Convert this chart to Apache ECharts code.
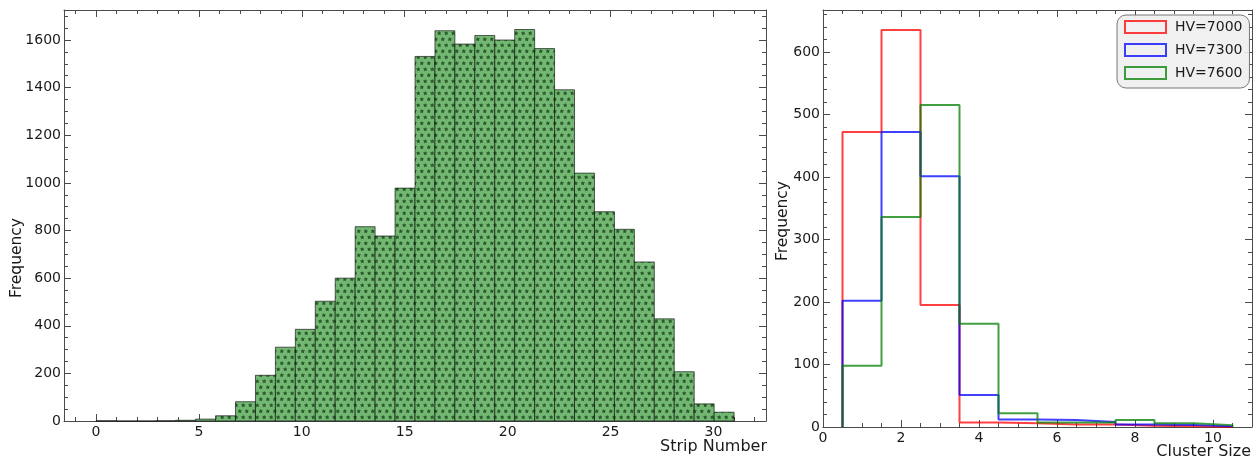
<!DOCTYPE html>
<html>
<head>
<meta charset="utf-8">
<script src="https://cdn.jsdelivr.net/npm/echarts@6/dist/echarts.min.js"></script>
<style>
  html, body { margin: 0; padding: 0; background: #fff; }
  #chart { width: 1259px; height: 459px; }
</style>
</head>
<body>
<div id="chart"></div>
<script>
// left: strip number histogram, 32 bins spanning strips 0..31
const stripRange = [0, 31];
const stripBinCount = 32;
const stripCounts = [1, 0, 0, 1, 3, 8, 22, 81, 192, 310, 385, 503, 600, 816, 777, 978,
  1531, 1639, 1583, 1619, 1600, 1644, 1564, 1391, 1041, 879, 805, 668, 429, 207, 72, 37];

// right: cluster size histograms (step outlines)
const clusterSizes = [1, 2, 3, 4, 5, 6, 7, 8, 9, 10];
const hvLabels = ['HV=7000', 'HV=7300', 'HV=7600'];
const hv7000 = [472, 635, 195, 7, 6, 4, 4, 2, 1, 0];
const hv7300 = [202, 472, 401, 51, 12, 11, 8, 4, 3, 1];
const hv7600 = [98, 336, 515, 165, 22, 7, 7, 11, 6, 3];

// tick labels
const stripTicks = [0, 5, 10, 15, 20, 25, 30];
const stripFreqTicks = [0, 200, 400, 600, 800, 1000, 1200, 1400, 1600];
const clusterTicks = [0, 2, 4, 6, 8, 10];
const clusterFreqTicks = [0, 100, 200, 300, 400, 500, 600];

const hvColors = ['rgba(255,0,0,0.75)', 'rgba(0,0,255,0.75)', 'rgba(0,128,0,0.75)'];
const axisColor = '#4a4a4a';
const font = 'DejaVu Sans';

// minor ticks between majors
const minorsOf = (from, to, step, majors) => {
  const out = [];
  for (let v = from; v <= to + 1e-9; v += step) {
    const r = Math.round(v * 100) / 100;
    if (!majors.includes(r)) out.push(r);
  }
  return out;
};

// star hatch tile
const starTile = () => {
  const c = document.createElement('canvas');
  c.width = 7; c.height = 12;
  const g = c.getContext('2d');
  g.fillStyle = '#72b872';
  g.fillRect(0, 0, 7, 12);
  g.fillStyle = '#2c582c';
  [[1.75, 3], [5.25, 9]].forEach(([cx, cy]) => {
    g.beginPath();
    for (let i = 0; i < 10; i++) {
      const r = i % 2 ? 1.2 : 2.4;
      const a = -Math.PI / 2 + i * Math.PI / 5;
      g.lineTo(cx + r * Math.cos(a), cy + 0.3 + r * Math.sin(a));
    }
    g.closePath();
    g.fill();
  });
  return c;
};
const starFill = { image: starTile(), repeat: 'repeat' };

const xAxes = [];
const yAxes = [];

// each side: one axis with majors (+labels), one with minor ticks only
const addAxes = (list, grid, dim, min, max, majors, minors) => {
  const sides = dim === 'x' ? ['bottom', 'top'] : ['left', 'right'];
  const first = list.length;
  sides.forEach((side, k) => {
    list.push({
      type: 'value', gridIndex: grid, position: side, min, max,
      axisLine: { show: true, onZero: false, lineStyle: { color: axisColor, width: 1 } },
      axisTick: { show: true, inside: true, length: 7, customValues: majors, lineStyle: { color: axisColor } },
      axisLabel: {
        show: k === 0, customValues: majors, margin: dim === 'x' ? 4 : 3,
        formatter: (v) => String(v),
        color: '#1a1a1a', fontFamily: font, fontSize: 14
      },
      splitLine: { show: false }
    });
    list.push({
      type: 'value', gridIndex: grid, position: side, min, max,
      axisLine: { show: false, onZero: false },
      axisTick: { show: true, inside: true, length: 4, customValues: minors, lineStyle: { color: axisColor } },
      axisLabel: { show: false },
      splitLine: { show: false }
    });
  });
  return first;
};

const stripX = addAxes(xAxes, 0, 'x', -1.55, 32.55, stripTicks, minorsOf(-1, 32, 1, stripTicks));
const stripY = addAxes(yAxes, 0, 'y', 0, 1726, stripFreqTicks, minorsOf(50, 1700, 50, stripFreqTicks));
const clusterX = addAxes(xAxes, 1, 'x', 0, 11, clusterTicks, minorsOf(0.5, 10.5, 0.5, clusterTicks));
const clusterY = addAxes(yAxes, 1, 'y', 0, 667, clusterFreqTicks, minorsOf(20, 660, 20, clusterFreqTicks));

const binWidth = (stripRange[1] - stripRange[0]) / stripBinCount;
const stripBins = stripCounts.map((c, i) => [stripRange[0] + i * binWidth, stripRange[0] + (i + 1) * binWidth, c]);

const stepPoints = (values) => {
  const pts = [[clusterSizes[0] - 0.5, 0]];
  values.forEach((v, i) => pts.push([clusterSizes[i] + 0.5, v]));
  pts.push([clusterSizes[clusterSizes.length - 1] + 0.5, 0]);
  return pts;
};

const chart = echarts.init(document.getElementById('chart'));

const option = {
  animation: false,
  backgroundColor: '#fff',
  grid: [
    { left: 64, top: 10, width: 702, height: 411 },
    { left: 823, top: 10, width: 429, height: 417 }
  ],
  xAxis: xAxes,
  yAxis: yAxes,
  legend: {
    orient: 'vertical',
    left: 1117, top: 15,
    padding: [4, 7, 7, 7],
    itemWidth: 41, itemHeight: 12, itemGap: 7,
    backgroundColor: 'rgba(238,238,238,0.9)',
    borderColor: '#777', borderWidth: 1, borderRadius: 9,
    textStyle: { fontFamily: font, fontSize: 14, color: '#1a1a1a', lineHeight: 16, padding: [0, 0, 0, 4] },
    data: hvLabels.map((name, i) => ({
      name, icon: 'rect',
      itemStyle: { color: 'transparent', borderColor: hvColors[i], borderWidth: 2 }
    }))
  },
  graphic: [
    { type: 'text', x: 17, y: 258, rotation: Math.PI / 2,
      style: { text: 'Frequency', fontFamily: font, fontSize: 15.5, fill: '#1a1a1a', align: 'center', verticalAlign: 'middle' } },
    { type: 'text', x: 783, y: 221, rotation: Math.PI / 2,
      style: { text: 'Frequency', fontFamily: font, fontSize: 15.5, fill: '#1a1a1a', align: 'center', verticalAlign: 'middle' } },
    { type: 'text', x: 767, y: 447,
      style: { text: 'Strip Number', fontFamily: font, fontSize: 16, fill: '#1a1a1a', align: 'right', verticalAlign: 'middle' } },
    { type: 'text', x: 1251, y: 452,
      style: { text: 'Cluster Size', fontFamily: font, fontSize: 16, fill: '#1a1a1a', align: 'right', verticalAlign: 'middle' } }
  ],
  series: [
    {
      type: 'custom',
      xAxisIndex: stripX, yAxisIndex: stripY,
      data: stripBins,
      encode: { x: [0, 1], y: 2 },
      renderItem: (params, api) => {
        const p0 = api.coord([api.value(0), api.value(2)]);
        const p1 = api.coord([api.value(1), 0]);
        return {
          type: 'rect',
          shape: { x: p0[0], y: p0[1], width: p1[0] - p0[0], height: p1[1] - p0[1] },
          style: { fill: starFill, stroke: 'rgba(0,0,0,0.6)', lineWidth: 1 }
        };
      }
    },
    ...[hv7000, hv7300, hv7600].map((vals, i) => ({
      name: hvLabels[i],
      type: 'line',
      xAxisIndex: clusterX, yAxisIndex: clusterY,
      step: 'start',
      showSymbol: false,
      data: stepPoints(vals),
      lineStyle: { color: hvColors[i], width: 2 },
      itemStyle: { color: hvColors[i] }
    }))
  ]
};

chart.setOption(option);
</script>
</body>
</html>
